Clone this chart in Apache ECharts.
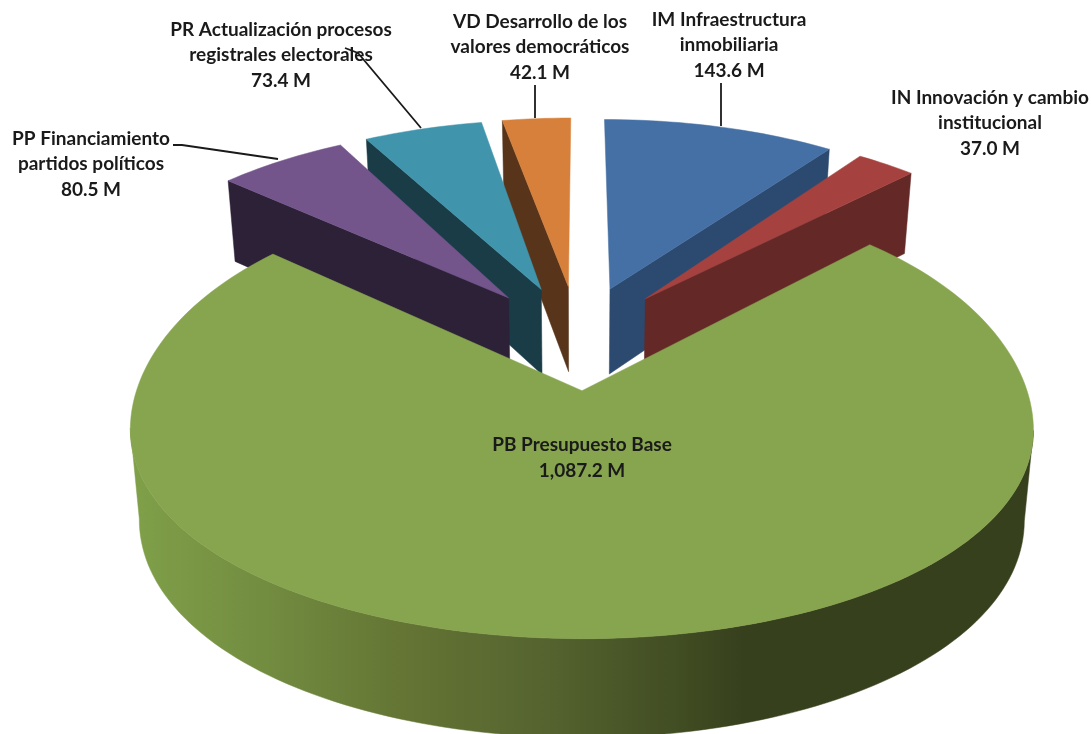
<!DOCTYPE html>
<html>
<head>
<meta charset="utf-8">
<style>html,body{margin:0;padding:0;background:#fff}#c{width:1091px;height:734px}</style>
<script src="https://cdn.jsdelivr.net/npm/echarts@6/dist/echarts.min.js"></script>
</head>
<body>
<div id="c"></div>
<script>
// clockwise from 12 o'clock
const categories = ['IM Infraestructura\ninmobiliaria', 'IN Innovación y cambio\ninstitucional', 'PB Presupuesto Base', 'PP Financiamiento\npartidos políticos', 'PR Actualización procesos\nregistrales electorales', 'VD Desarrollo de los\nvalores democráticos'];
const values = [143.6, 37.0, 1087.2, 80.5, 73.4, 42.1];
const topColors = ['#4570a5', '#a5423f', '#87a44e', '#73558c', '#4095ad', '#d7803b'];
const wallColors = ['#2c4a70', '#642826', '#37401d', '#2c2137', '#1a3c47', '#57341a'];
const drawOrder = [5, 4, 3, 0, 1, 2];
// label anchor [x, y of block centre] and leader polyline
const labelAnchors = [[729, 45], [990, 123], [582, 458], [91, 164], [281, 55], [540, 47]];
const leaders = [
  [[721, 83], [721, 126]],
  null,
  null,
  [[173, 145], [182, 145], [278, 159]],
  [[345, 48], [358, 53], [421, 128]],
  [[535, 85], [535, 118]]
];

const total = values.reduce((a, b) => a + b, 0);
const startAngles = [];
values.reduce((acc, v, i) => { startAngles[i] = acc; return acc + v / total * 2 * Math.PI; }, 0);

const CX = 578.5, CY = 340, FX = 436, FY = 208, K = 0.12, EXPLODE = 0.225, SAG = 14;
function project(u, v, bottom) {
  const den = 1 + K * v;
  let x = FX * u / den, y = -FY * v / den;
  // the near half of the disc bulges outwards at the sides in the reference's 3D projection
  const t = Math.max(0, Math.min(1, (0.6 - v) / 0.9));
  y += SAG * u * u * t;
  if (bottom) { x *= 0.98; y = y * 1.04 + 87; }
  return [CX + x, CY + y];
}
// the part of an arc between its rightmost and leftmost points
function visibleSpan(pts) {
  let r = 0, l = 0;
  pts.forEach((p, j) => { if (p[0] > pts[r][0]) r = j; if (p[0] < pts[l][0]) l = j; });
  return pts.slice(r, l + 1);
}
function renderSlice(params, api) {
  const i = api.value(0);
  const a0 = startAngles[i], a1 = a0 + values[i] / total * 2 * Math.PI, mid = (a0 + a1) / 2;
  const ou = EXPLODE * Math.sin(mid), ov = EXPLODE * Math.cos(mid);
  const near = Math.cos(mid) < 0;
  const extraV = near ? 0.012 : 0.04, extraU = near ? 0.012 : (Math.sin(mid) > 0 ? 0.02 : 0.04);
  const au = (EXPLODE + extraU) * Math.sin(mid), av = (EXPLODE + extraV) * Math.cos(mid);
  const n = Math.max(8, Math.round((a1 - a0) * 40));
  const arc = b => {
    const pts = [];
    for (let j = 0; j <= n; j++) {
      const a = a0 + (a1 - a0) * j / n;
      pts.push(project(ou + Math.sin(a), ov + Math.cos(a), b));
    }
    return pts;
  };
  const topArc = arc(false), botArc = arc(true);
  const apexT = project(au, av, false), apexB = project(au, av, true);
  const poly = (points, fill) => ({ type: 'polygon', shape: { points }, style: { fill, stroke: fill, lineWidth: 0.5 }, silent: true });
  const wallFill = { type: 'linear', global: true, x: 130, y: 0, x2: 1033, y2: 0, colorStops: [
    { offset: 0, color: '#80a049' }, { offset: 0.15, color: '#728c40' }, { offset: 0.3, color: '#647534' },
    { offset: 0.45, color: '#566530' }, { offset: 0.6, color: '#424e23' }, { offset: 0.68, color: '#37401d' }, { offset: 1, color: '#37401d' }
  ] };
  const children = [];
  if (Math.sin(a0) < -1e-6) children.push(poly([apexT, topArc[0], botArc[0], apexB], wallColors[i]));
  if (Math.sin(a1) > 1e-6) children.push(poly([apexT, topArc[n], botArc[n], apexB], wallColors[i]));
  if (near) children.push(poly(visibleSpan(topArc).concat(visibleSpan(botArc).reverse()), wallFill));
  children.push(poly([apexT].concat(topArc), topColors[i]));
  return { type: 'group', children };
}
function renderLabel(params, api) {
  const i = api.value(0);
  const num = values[i].toLocaleString('en-US', { minimumFractionDigits: 1, maximumFractionDigits: 1 }) + ' M';
  const children = [];
  if (leaders[i]) children.push({ type: 'polyline', shape: { points: leaders[i] }, style: { stroke: '#1a1a1a', lineWidth: 1.8, fill: null }, silent: true });
  children.push({ type: 'text', style: {
    x: labelAnchors[i][0], y: labelAnchors[i][1], text: categories[i] + '\n' + num,
    align: 'center', verticalAlign: 'middle', fill: '#1a1a1a',
    font: 'bold 19px Lato', lineHeight: 25.5
  }, silent: true });
  return { type: 'group', children };
}
const chart = echarts.init(document.getElementById('c'), null, { renderer: 'canvas' });
chart.setOption({
  animation: false,
  backgroundColor: '#fff',
  series: [
    { type: 'custom', coordinateSystem: 'none', renderItem: renderSlice, data: drawOrder.map(i => [i]), z: 1 },
    { type: 'custom', coordinateSystem: 'none', renderItem: renderLabel, data: drawOrder.map(i => [i]), z: 2 }
  ]
});
</script>
</body>
</html>
